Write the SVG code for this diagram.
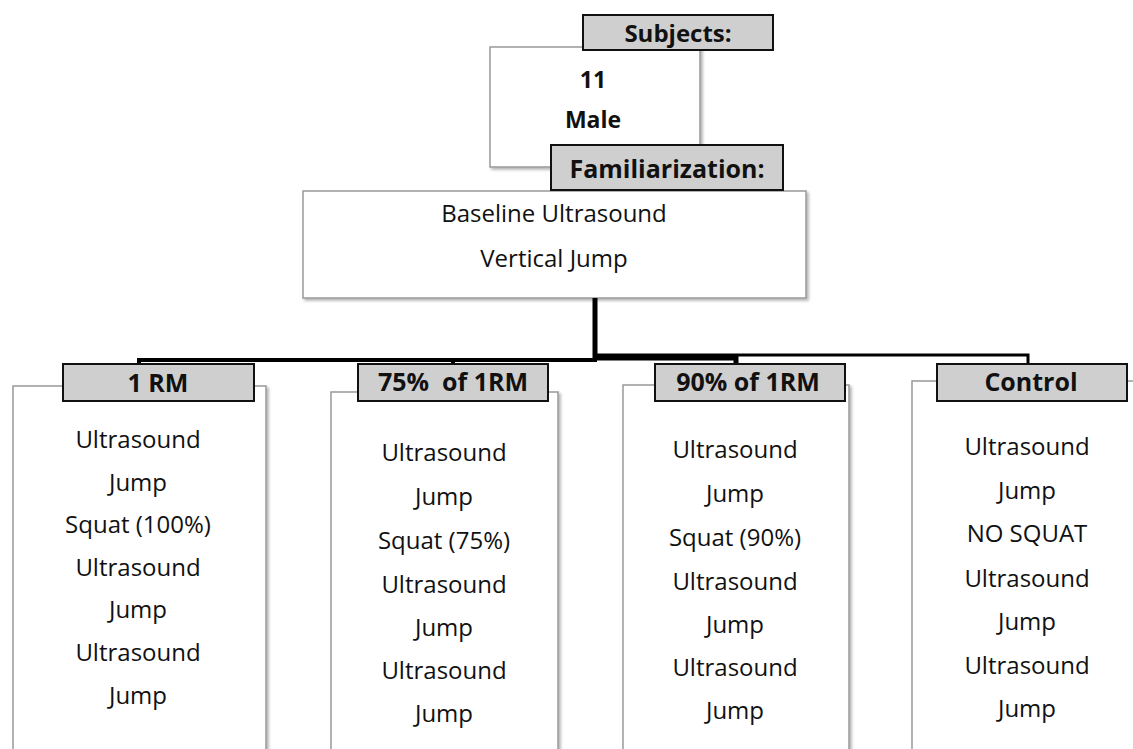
<svg xmlns="http://www.w3.org/2000/svg" width="1133" height="749" viewBox="0 0 1133 749">
<defs>
<filter id="sh" x="-5%" y="-5%" width="115%" height="115%">
<feDropShadow dx="2" dy="2" stdDeviation="1.5" flood-color="#000" flood-opacity="0.3"/>
</filter>
<style>
.box{fill:#fff;stroke:#999;stroke-width:1.5;filter:url(#sh)}
.lbl{fill:#cfcfcf;stroke:#111;stroke-width:2}
.t{font-family:"Open Sans","Noto Sans",sans-serif;font-size:24px;fill:#111;text-anchor:middle}
.b{font-family:"Open Sans","Noto Sans",sans-serif;font-weight:700;fill:#111;text-anchor:middle}
.c{fill:none;stroke:#000;stroke-linejoin:miter}
</style>
</defs>
<rect width="1133" height="749" fill="#fff"/>

<g id="subjects">
<rect class="box" x="490" y="47" width="210" height="120"/>
<text class="b" x="593" y="88" font-size="23">11</text>
<text class="b" x="593" y="128" font-size="23">Male</text>
<rect class="lbl" x="583" y="15" width="190" height="35"/>
<text class="b" x="678" y="42" font-size="24">Subjects:</text>
</g>

<g id="familiarization">
<rect class="box" x="303" y="191" width="503" height="107"/>
<text class="t" x="554" y="222" font-size="25">Baseline Ultrasound</text>
<text class="t" x="554" y="267" font-size="25">Vertical Jump</text>
<rect class="lbl" x="551" y="145" width="232" height="45"/>
<text class="b" x="667" y="178" font-size="25">Familiarization:</text>
</g>

<g id="connectors">
<path class="c" stroke-width="4" d="M595,298 V360 H139 V364"/>
<path class="c" stroke-width="4" d="M595,298 V360 H453 V364"/>
<path class="c" stroke-width="5" d="M595,298 V358 H736 V364"/>
<path class="c" stroke-width="3" d="M595,298 V355 H1028 V364"/>
</g>

<g id="rm1">
<rect class="box" x="13" y="386" width="253" height="380"/>
<rect class="lbl" x="63" y="364" width="191" height="37"/>
<text class="b" x="158" y="392" font-size="25">1 RM</text>
<text class="t" x="138" y="448">Ultrasound</text>
<text class="t" x="138" y="491">Jump</text>
<text class="t" x="138" y="533">Squat (100%)</text>
<text class="t" x="138" y="576">Ultrasound</text>
<text class="t" x="138" y="618">Jump</text>
<text class="t" x="138" y="661">Ultrasound</text>
<text class="t" x="138" y="704">Jump</text>
</g>

<g id="p75">
<rect class="box" x="331" y="392" width="227" height="380"/>
<rect class="lbl" x="358" y="364" width="190" height="37"/>
<text class="b" x="453" y="391" font-size="25" xml:space="preserve">75%  of 1RM</text>
<text class="t" x="444" y="461">Ultrasound</text>
<text class="t" x="444" y="505">Jump</text>
<text class="t" x="444" y="549">Squat (75%)</text>
<text class="t" x="444" y="593">Ultrasound</text>
<text class="t" x="444" y="636">Jump</text>
<text class="t" x="444" y="679">Ultrasound</text>
<text class="t" x="444" y="722">Jump</text>
</g>

<g id="p90">
<rect class="box" x="623" y="385" width="226" height="380"/>
<rect class="lbl" x="655" y="364" width="190" height="37"/>
<text class="b" x="748" y="391" font-size="25">90% of 1RM</text>
<text class="t" x="735" y="458">Ultrasound</text>
<text class="t" x="735" y="502">Jump</text>
<text class="t" x="735" y="546">Squat (90%)</text>
<text class="t" x="735" y="590">Ultrasound</text>
<text class="t" x="735" y="633">Jump</text>
<text class="t" x="735" y="676">Ultrasound</text>
<text class="t" x="735" y="719">Jump</text>
</g>

<g id="control">
<rect class="box" x="912" y="381" width="240" height="380"/>
<rect class="lbl" x="937" y="364" width="190" height="37"/>
<text class="b" x="1031" y="391" font-size="25">Control</text>
<text class="t" x="1027" y="455">Ultrasound</text>
<text class="t" x="1027" y="499">Jump</text>
<text class="t" x="1027" y="542">NO SQUAT</text>
<text class="t" x="1027" y="587">Ultrasound</text>
<text class="t" x="1027" y="630">Jump</text>
<text class="t" x="1027" y="674">Ultrasound</text>
<text class="t" x="1027" y="717">Jump</text>
</g>
</svg>
